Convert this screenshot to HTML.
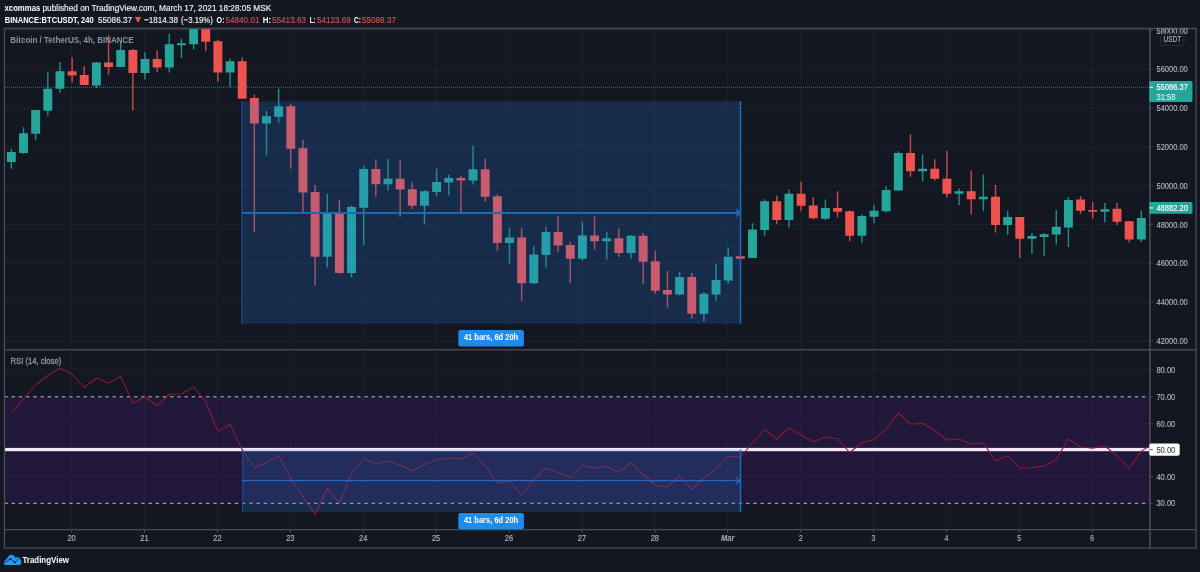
<!DOCTYPE html>
<html><head><meta charset="utf-8"><title>BTCUSDT chart</title>
<style>html,body{margin:0;padding:0;background:#131722;overflow:hidden}svg{display:block;will-change:transform}</style></head>
<body>
<svg width="1200" height="572" viewBox="0 0 1200 572" font-family="Liberation Sans, sans-serif">
<defs><clipPath id="cm"><rect x="4.5" y="28.5" width="1145.1" height="321.3"/></clipPath>
<clipPath id="cr"><rect x="4.5" y="349.8" width="1145.1" height="179.8"/></clipPath>
<clipPath id="ca"><rect x="1149.6" y="28.5" width="46.4" height="321.3"/></clipPath></defs>
<rect width="1200" height="572" fill="#131722"/>
<path d="M71.60 28.5 V529.6 M144.50 28.5 V529.6 M217.40 28.5 V529.6 M290.30 28.5 V529.6 M363.20 28.5 V529.6 M436.10 28.5 V529.6 M509.00 28.5 V529.6 M581.90 28.5 V529.6 M654.80 28.5 V529.6 M727.70 28.5 V529.6 M800.60 28.5 V529.6 M873.50 28.5 V529.6 M946.40 28.5 V529.6 M1019.30 28.5 V529.6 M1092.20 28.5 V529.6 M4.5 30.50 H1149.6 M4.5 69.30 H1149.6 M4.5 108.10 H1149.6 M4.5 146.90 H1149.6 M4.5 185.70 H1149.6 M4.5 224.40 H1149.6 M4.5 263.20 H1149.6 M4.5 302.00 H1149.6 M4.5 340.80 H1149.6 M4.5 369.80 H1149.6 M4.5 423.70 H1149.6 M4.5 476.60 H1149.6" stroke="#1d212c" stroke-width="1" fill="none"/>
<g clip-path="url(#cr)">
<rect x="4.5" y="396.8" width="1145.1" height="106.5" fill="#21173a"/>
<path d="M71.60 396.8 V503.3 M144.50 396.8 V503.3 M217.40 396.8 V503.3 M290.30 396.8 V503.3 M363.20 396.8 V503.3 M436.10 396.8 V503.3 M509.00 396.8 V503.3 M581.90 396.8 V503.3 M654.80 396.8 V503.3 M727.70 396.8 V503.3 M800.60 396.8 V503.3 M873.50 396.8 V503.3 M946.40 396.8 V503.3 M1019.30 396.8 V503.3 M1092.20 396.8 V503.3 M4.5 423.70 H1149.6 M4.5 476.60 H1149.6" stroke="#292040" stroke-width="1" fill="none"/>
<path d="M4.5 396.8 H1149.6 M4.5 503.3 H1149.6" stroke="#c9c9ce" stroke-width="0.95" stroke-dasharray="3.3 3.9" fill="none"/>
<rect x="4.5" y="447.9" width="1145.1" height="3.3" fill="#f3e6fa"/>
<polyline points="11.35,413.25 23.50,398.75 35.65,385.00 47.80,375.50 59.95,368.25 72.10,374.25 84.25,387.50 96.40,378.00 108.55,383.25 120.70,376.25 132.85,403.25 145.00,397.00 157.15,405.75 169.30,394.50 181.45,394.00 193.60,387.00 205.75,402.00 217.90,431.25 230.05,424.50 242.20,450.00 254.35,467.50 266.50,462.50 278.65,455.75 290.80,478.75 302.95,496.75 315.10,514.50 327.25,488.25 339.40,503.25 351.55,473.75 363.70,458.75 375.85,463.50 388.00,461.25 400.15,465.00 412.30,470.75 424.45,464.50 436.60,460.00 448.75,458.00 460.90,459.00 473.05,453.00 485.20,465.50 497.35,483.25 509.50,480.50 521.65,495.00 533.80,479.50 545.95,468.00 558.10,472.50 570.25,477.50 582.40,465.50 594.55,468.00 606.70,466.25 618.85,472.50 631.00,462.50 643.15,474.25 655.30,485.00 667.45,487.00 679.60,475.50 691.75,489.50 703.90,478.00 716.05,468.75 728.20,456.50 740.35,457.00 752.50,443.00 764.65,429.25 776.80,439.25 788.95,428.00 801.10,435.00 813.25,441.75 825.40,437.00 837.55,438.75 849.70,452.50 861.85,442.75 874.00,439.50 886.15,429.25 898.30,413.00 910.45,424.25 922.60,423.50 934.75,430.50 946.90,440.00 959.05,439.00 971.20,444.00 983.35,443.00 995.50,460.75 1007.65,456.00 1019.80,468.50 1031.95,467.50 1044.10,466.00 1056.25,459.50 1068.40,439.00 1080.55,446.75 1092.70,448.25 1104.85,445.75 1117.00,456.25 1129.15,468.75 1141.30,451.10 1153.45,443.30" fill="none" stroke="#8c1c30" stroke-width="1.05" stroke-linejoin="round"/>
<rect x="242" y="449.5" width="499.2" height="62.5" fill="#2a84ea" fill-opacity="0.2"/>
<path d="M242.6 449.5 V512" stroke="#1f4692" stroke-width="1.2" fill="none"/><path d="M740.5 449.5 V512" stroke="#1e6ebe" stroke-width="1.4" fill="none"/>
<path d="M242 480.6 H740 M736 477.3 L740 480.6 L736 483.9" stroke="#2666c2" stroke-width="1.25" fill="none"/>
</g>
<g clip-path="url(#cm)">
<path d="M5 87.25 H1149.6" stroke="#26a69a" stroke-width="1" stroke-dasharray="1 1" stroke-opacity="0.75" fill="none"/>
<rect x="10.62" y="149.00" width="1.45" height="19.75" fill="#26a69a" fill-opacity="0.82"/>
<rect x="6.90" y="152.00" width="8.9" height="10.00" fill="#26a69a"/>
<rect x="22.77" y="127.25" width="1.45" height="26.50" fill="#26a69a" fill-opacity="0.82"/>
<rect x="19.05" y="133.25" width="8.9" height="19.75" fill="#26a69a"/>
<rect x="34.92" y="110.00" width="1.45" height="30.50" fill="#26a69a" fill-opacity="0.82"/>
<rect x="31.20" y="110.00" width="8.9" height="23.75" fill="#26a69a"/>
<rect x="47.08" y="72.50" width="1.45" height="43.00" fill="#26a69a" fill-opacity="0.82"/>
<rect x="43.35" y="88.75" width="8.9" height="22.00" fill="#26a69a"/>
<rect x="59.23" y="62.00" width="1.45" height="31.00" fill="#26a69a" fill-opacity="0.82"/>
<rect x="55.50" y="71.25" width="8.9" height="17.50" fill="#26a69a"/>
<rect x="71.38" y="57.50" width="1.45" height="25.00" fill="#ef5350" fill-opacity="0.82"/>
<rect x="67.65" y="71.25" width="8.9" height="4.25" fill="#ef5350"/>
<rect x="83.53" y="66.25" width="1.45" height="18.75" fill="#ef5350" fill-opacity="0.82"/>
<rect x="79.80" y="75.00" width="8.9" height="10.00" fill="#ef5350"/>
<rect x="95.67" y="62.00" width="1.45" height="26.00" fill="#26a69a" fill-opacity="0.82"/>
<rect x="91.95" y="62.50" width="8.9" height="23.00" fill="#26a69a"/>
<rect x="107.83" y="35.00" width="1.45" height="39.50" fill="#ef5350" fill-opacity="0.82"/>
<rect x="104.10" y="62.50" width="8.9" height="4.50" fill="#ef5350"/>
<rect x="119.98" y="41.25" width="1.45" height="25.75" fill="#26a69a" fill-opacity="0.82"/>
<rect x="116.25" y="50.00" width="8.9" height="17.00" fill="#26a69a"/>
<rect x="132.12" y="49.00" width="1.45" height="61.50" fill="#ef5350" fill-opacity="0.82"/>
<rect x="128.40" y="50.00" width="8.9" height="23.00" fill="#ef5350"/>
<rect x="144.28" y="52.50" width="1.45" height="27.00" fill="#26a69a" fill-opacity="0.82"/>
<rect x="140.55" y="59.00" width="8.9" height="14.00" fill="#26a69a"/>
<rect x="156.43" y="50.50" width="1.45" height="21.50" fill="#ef5350" fill-opacity="0.82"/>
<rect x="152.70" y="59.00" width="8.9" height="8.50" fill="#ef5350"/>
<rect x="168.58" y="33.75" width="1.45" height="38.75" fill="#26a69a" fill-opacity="0.82"/>
<rect x="164.85" y="44.25" width="8.9" height="23.25" fill="#26a69a"/>
<rect x="180.72" y="38.75" width="1.45" height="19.25" fill="#26a69a" fill-opacity="0.82"/>
<rect x="177.00" y="43.25" width="8.9" height="2.00" fill="#26a69a"/>
<rect x="192.88" y="20.00" width="1.45" height="29.50" fill="#26a69a" fill-opacity="0.82"/>
<rect x="189.15" y="20.00" width="8.9" height="24.25" fill="#26a69a"/>
<rect x="205.03" y="20.00" width="1.45" height="31.25" fill="#ef5350" fill-opacity="0.82"/>
<rect x="201.30" y="20.00" width="8.9" height="21.75" fill="#ef5350"/>
<rect x="217.18" y="40.00" width="1.45" height="41.75" fill="#ef5350" fill-opacity="0.82"/>
<rect x="213.45" y="41.25" width="8.9" height="31.25" fill="#ef5350"/>
<rect x="229.33" y="58.75" width="1.45" height="28.00" fill="#26a69a" fill-opacity="0.82"/>
<rect x="225.60" y="61.25" width="8.9" height="11.25" fill="#26a69a"/>
<rect x="241.47" y="57.50" width="1.45" height="41.10" fill="#ef5350" fill-opacity="0.82"/>
<rect x="237.75" y="61.25" width="8.9" height="37.35" fill="#ef5350"/>
<rect x="253.62" y="94.50" width="1.45" height="137.50" fill="#ef5350" fill-opacity="0.82"/>
<rect x="249.90" y="98.00" width="8.9" height="25.50" fill="#ef5350"/>
<rect x="265.77" y="110.75" width="1.45" height="44.75" fill="#26a69a" fill-opacity="0.82"/>
<rect x="262.05" y="116.25" width="8.9" height="7.25" fill="#26a69a"/>
<rect x="277.93" y="88.75" width="1.45" height="33.75" fill="#26a69a" fill-opacity="0.82"/>
<rect x="274.20" y="106.25" width="8.9" height="10.50" fill="#26a69a"/>
<rect x="290.07" y="104.25" width="1.45" height="64.50" fill="#ef5350" fill-opacity="0.82"/>
<rect x="286.35" y="106.25" width="8.9" height="42.50" fill="#ef5350"/>
<rect x="302.23" y="140.00" width="1.45" height="72.50" fill="#ef5350" fill-opacity="0.82"/>
<rect x="298.50" y="148.25" width="8.9" height="44.25" fill="#ef5350"/>
<rect x="314.38" y="185.00" width="1.45" height="100.50" fill="#ef5350" fill-opacity="0.82"/>
<rect x="310.65" y="192.00" width="8.9" height="64.75" fill="#ef5350"/>
<rect x="326.53" y="193.75" width="1.45" height="73.75" fill="#26a69a" fill-opacity="0.82"/>
<rect x="322.80" y="213.00" width="8.9" height="43.75" fill="#26a69a"/>
<rect x="338.68" y="200.00" width="1.45" height="73.75" fill="#ef5350" fill-opacity="0.82"/>
<rect x="334.95" y="213.00" width="8.9" height="60.00" fill="#ef5350"/>
<rect x="350.82" y="205.50" width="1.45" height="72.00" fill="#26a69a" fill-opacity="0.82"/>
<rect x="347.10" y="207.00" width="8.9" height="66.00" fill="#26a69a"/>
<rect x="362.98" y="166.25" width="1.45" height="78.75" fill="#26a69a" fill-opacity="0.82"/>
<rect x="359.25" y="169.00" width="8.9" height="38.75" fill="#26a69a"/>
<rect x="375.12" y="159.50" width="1.45" height="37.25" fill="#ef5350" fill-opacity="0.82"/>
<rect x="371.40" y="169.00" width="8.9" height="15.25" fill="#ef5350"/>
<rect x="387.28" y="158.75" width="1.45" height="31.75" fill="#26a69a" fill-opacity="0.82"/>
<rect x="383.55" y="178.75" width="8.9" height="5.50" fill="#26a69a"/>
<rect x="399.43" y="160.00" width="1.45" height="56.75" fill="#ef5350" fill-opacity="0.82"/>
<rect x="395.70" y="178.75" width="8.9" height="10.75" fill="#ef5350"/>
<rect x="411.57" y="182.00" width="1.45" height="27.00" fill="#ef5350" fill-opacity="0.82"/>
<rect x="407.85" y="189.25" width="8.9" height="16.50" fill="#ef5350"/>
<rect x="423.73" y="190.00" width="1.45" height="34.25" fill="#26a69a" fill-opacity="0.82"/>
<rect x="420.00" y="191.25" width="8.9" height="14.50" fill="#26a69a"/>
<rect x="435.88" y="168.75" width="1.45" height="27.00" fill="#26a69a" fill-opacity="0.82"/>
<rect x="432.15" y="182.00" width="8.9" height="10.00" fill="#26a69a"/>
<rect x="448.03" y="174.50" width="1.45" height="21.00" fill="#26a69a" fill-opacity="0.82"/>
<rect x="444.30" y="178.00" width="8.9" height="4.50" fill="#26a69a"/>
<rect x="460.18" y="175.75" width="1.45" height="38.00" fill="#ef5350" fill-opacity="0.82"/>
<rect x="456.45" y="178.00" width="8.9" height="2.50" fill="#ef5350"/>
<rect x="472.32" y="145.75" width="1.45" height="38.50" fill="#26a69a" fill-opacity="0.82"/>
<rect x="468.60" y="169.25" width="8.9" height="11.25" fill="#26a69a"/>
<rect x="484.48" y="158.75" width="1.45" height="43.00" fill="#ef5350" fill-opacity="0.82"/>
<rect x="480.75" y="169.25" width="8.9" height="27.50" fill="#ef5350"/>
<rect x="496.62" y="194.25" width="1.45" height="56.50" fill="#ef5350" fill-opacity="0.82"/>
<rect x="492.90" y="196.25" width="8.9" height="46.75" fill="#ef5350"/>
<rect x="508.78" y="228.25" width="1.45" height="35.50" fill="#26a69a" fill-opacity="0.82"/>
<rect x="505.05" y="237.50" width="8.9" height="5.50" fill="#26a69a"/>
<rect x="520.92" y="228.25" width="1.45" height="72.50" fill="#ef5350" fill-opacity="0.82"/>
<rect x="517.20" y="237.50" width="8.9" height="45.75" fill="#ef5350"/>
<rect x="533.08" y="246.25" width="1.45" height="37.50" fill="#26a69a" fill-opacity="0.82"/>
<rect x="529.35" y="254.50" width="8.9" height="28.75" fill="#26a69a"/>
<rect x="545.23" y="226.75" width="1.45" height="40.75" fill="#26a69a" fill-opacity="0.82"/>
<rect x="541.50" y="232.00" width="8.9" height="23.00" fill="#26a69a"/>
<rect x="557.38" y="215.75" width="1.45" height="36.00" fill="#ef5350" fill-opacity="0.82"/>
<rect x="553.65" y="232.00" width="8.9" height="13.50" fill="#ef5350"/>
<rect x="569.52" y="241.75" width="1.45" height="41.50" fill="#ef5350" fill-opacity="0.82"/>
<rect x="565.80" y="245.00" width="8.9" height="13.75" fill="#ef5350"/>
<rect x="581.68" y="222.00" width="1.45" height="38.50" fill="#26a69a" fill-opacity="0.82"/>
<rect x="577.95" y="235.50" width="8.9" height="23.25" fill="#26a69a"/>
<rect x="593.83" y="216.25" width="1.45" height="33.75" fill="#ef5350" fill-opacity="0.82"/>
<rect x="590.10" y="235.50" width="8.9" height="5.75" fill="#ef5350"/>
<rect x="605.98" y="231.75" width="1.45" height="27.75" fill="#26a69a" fill-opacity="0.82"/>
<rect x="602.25" y="238.25" width="8.9" height="3.00" fill="#26a69a"/>
<rect x="618.12" y="228.25" width="1.45" height="28.75" fill="#ef5350" fill-opacity="0.82"/>
<rect x="614.40" y="238.25" width="8.9" height="14.75" fill="#ef5350"/>
<rect x="630.27" y="235.00" width="1.45" height="23.75" fill="#26a69a" fill-opacity="0.82"/>
<rect x="626.55" y="235.75" width="8.9" height="17.25" fill="#26a69a"/>
<rect x="642.43" y="233.00" width="1.45" height="50.75" fill="#ef5350" fill-opacity="0.82"/>
<rect x="638.70" y="235.75" width="8.9" height="26.00" fill="#ef5350"/>
<rect x="654.58" y="250.75" width="1.45" height="43.00" fill="#ef5350" fill-opacity="0.82"/>
<rect x="650.85" y="261.25" width="8.9" height="29.50" fill="#ef5350"/>
<rect x="666.73" y="270.75" width="1.45" height="36.75" fill="#ef5350" fill-opacity="0.82"/>
<rect x="663.00" y="290.00" width="8.9" height="4.50" fill="#ef5350"/>
<rect x="678.88" y="272.00" width="1.45" height="23.50" fill="#26a69a" fill-opacity="0.82"/>
<rect x="675.15" y="277.00" width="8.9" height="17.50" fill="#26a69a"/>
<rect x="691.02" y="273.00" width="1.45" height="45.75" fill="#ef5350" fill-opacity="0.82"/>
<rect x="687.30" y="277.00" width="8.9" height="36.75" fill="#ef5350"/>
<rect x="703.18" y="292.00" width="1.45" height="30.00" fill="#26a69a" fill-opacity="0.82"/>
<rect x="699.45" y="293.75" width="8.9" height="20.00" fill="#26a69a"/>
<rect x="715.33" y="263.75" width="1.45" height="37.00" fill="#26a69a" fill-opacity="0.82"/>
<rect x="711.60" y="280.00" width="8.9" height="14.50" fill="#26a69a"/>
<rect x="727.48" y="247.50" width="1.45" height="36.25" fill="#26a69a" fill-opacity="0.82"/>
<rect x="723.75" y="256.75" width="8.9" height="23.75" fill="#26a69a"/>
<rect x="735.90" y="256.25" width="8.9" height="2.50" fill="#ef5350"/>
<rect x="751.77" y="223.25" width="1.45" height="34.75" fill="#26a69a" fill-opacity="0.82"/>
<rect x="748.05" y="229.50" width="8.9" height="28.50" fill="#26a69a"/>
<rect x="763.93" y="199.25" width="1.45" height="36.25" fill="#26a69a" fill-opacity="0.82"/>
<rect x="760.20" y="201.25" width="8.9" height="28.75" fill="#26a69a"/>
<rect x="776.08" y="195.50" width="1.45" height="28.75" fill="#ef5350" fill-opacity="0.82"/>
<rect x="772.35" y="201.25" width="8.9" height="18.75" fill="#ef5350"/>
<rect x="788.23" y="189.50" width="1.45" height="38.00" fill="#26a69a" fill-opacity="0.82"/>
<rect x="784.50" y="193.75" width="8.9" height="26.25" fill="#26a69a"/>
<rect x="800.38" y="181.75" width="1.45" height="29.50" fill="#ef5350" fill-opacity="0.82"/>
<rect x="796.65" y="193.75" width="8.9" height="12.00" fill="#ef5350"/>
<rect x="812.52" y="197.00" width="1.45" height="22.25" fill="#ef5350" fill-opacity="0.82"/>
<rect x="808.80" y="205.50" width="8.9" height="12.75" fill="#ef5350"/>
<rect x="824.68" y="199.50" width="1.45" height="20.50" fill="#26a69a" fill-opacity="0.82"/>
<rect x="820.95" y="208.00" width="8.9" height="10.75" fill="#26a69a"/>
<rect x="836.83" y="191.25" width="1.45" height="26.25" fill="#ef5350" fill-opacity="0.82"/>
<rect x="833.10" y="208.00" width="8.9" height="3.75" fill="#ef5350"/>
<rect x="848.98" y="210.50" width="1.45" height="30.75" fill="#ef5350" fill-opacity="0.82"/>
<rect x="845.25" y="211.25" width="8.9" height="24.50" fill="#ef5350"/>
<rect x="861.12" y="214.50" width="1.45" height="28.75" fill="#26a69a" fill-opacity="0.82"/>
<rect x="857.40" y="216.00" width="8.9" height="19.75" fill="#26a69a"/>
<rect x="873.27" y="205.00" width="1.45" height="18.00" fill="#26a69a" fill-opacity="0.82"/>
<rect x="869.55" y="210.75" width="8.9" height="6.00" fill="#26a69a"/>
<rect x="885.43" y="186.25" width="1.45" height="26.25" fill="#26a69a" fill-opacity="0.82"/>
<rect x="881.70" y="190.00" width="8.9" height="21.25" fill="#26a69a"/>
<rect x="897.58" y="151.25" width="1.45" height="39.25" fill="#26a69a" fill-opacity="0.82"/>
<rect x="893.85" y="153.00" width="8.9" height="37.50" fill="#26a69a"/>
<rect x="909.73" y="134.25" width="1.45" height="42.50" fill="#ef5350" fill-opacity="0.82"/>
<rect x="906.00" y="153.00" width="8.9" height="18.25" fill="#ef5350"/>
<rect x="921.88" y="154.25" width="1.45" height="27.00" fill="#26a69a" fill-opacity="0.82"/>
<rect x="918.15" y="168.75" width="8.9" height="2.50" fill="#26a69a"/>
<rect x="934.02" y="159.25" width="1.45" height="21.25" fill="#ef5350" fill-opacity="0.82"/>
<rect x="930.30" y="168.75" width="8.9" height="10.00" fill="#ef5350"/>
<rect x="946.18" y="150.75" width="1.45" height="46.75" fill="#ef5350" fill-opacity="0.82"/>
<rect x="942.45" y="178.75" width="8.9" height="15.00" fill="#ef5350"/>
<rect x="958.33" y="188.25" width="1.45" height="16.75" fill="#26a69a" fill-opacity="0.82"/>
<rect x="954.60" y="191.25" width="8.9" height="2.50" fill="#26a69a"/>
<rect x="970.48" y="170.50" width="1.45" height="44.00" fill="#ef5350" fill-opacity="0.82"/>
<rect x="966.75" y="191.25" width="8.9" height="8.00" fill="#ef5350"/>
<rect x="982.62" y="174.50" width="1.45" height="36.75" fill="#26a69a" fill-opacity="0.82"/>
<rect x="978.90" y="196.75" width="8.9" height="2.50" fill="#26a69a"/>
<rect x="994.77" y="185.00" width="1.45" height="47.50" fill="#ef5350" fill-opacity="0.82"/>
<rect x="991.05" y="196.75" width="8.9" height="28.25" fill="#ef5350"/>
<rect x="1006.93" y="210.75" width="1.45" height="24.00" fill="#26a69a" fill-opacity="0.82"/>
<rect x="1003.20" y="217.00" width="8.9" height="8.00" fill="#26a69a"/>
<rect x="1019.08" y="217.00" width="1.45" height="41.00" fill="#ef5350" fill-opacity="0.82"/>
<rect x="1015.35" y="217.00" width="8.9" height="21.75" fill="#ef5350"/>
<rect x="1031.23" y="233.00" width="1.45" height="20.75" fill="#26a69a" fill-opacity="0.82"/>
<rect x="1027.50" y="236.00" width="8.9" height="2.75" fill="#26a69a"/>
<rect x="1043.38" y="233.00" width="1.45" height="22.75" fill="#26a69a" fill-opacity="0.82"/>
<rect x="1039.65" y="234.25" width="8.9" height="2.75" fill="#26a69a"/>
<rect x="1055.53" y="210.00" width="1.45" height="34.50" fill="#26a69a" fill-opacity="0.82"/>
<rect x="1051.80" y="226.75" width="8.9" height="7.75" fill="#26a69a"/>
<rect x="1067.67" y="197.00" width="1.45" height="50.00" fill="#26a69a" fill-opacity="0.82"/>
<rect x="1063.95" y="200.00" width="8.9" height="27.50" fill="#26a69a"/>
<rect x="1079.83" y="196.25" width="1.45" height="17.50" fill="#ef5350" fill-opacity="0.82"/>
<rect x="1076.10" y="199.50" width="8.9" height="11.25" fill="#ef5350"/>
<rect x="1091.98" y="202.00" width="1.45" height="16.75" fill="#ef5350" fill-opacity="0.82"/>
<rect x="1088.25" y="210.00" width="8.9" height="1.75" fill="#ef5350"/>
<rect x="1104.12" y="203.00" width="1.45" height="19.50" fill="#26a69a" fill-opacity="0.82"/>
<rect x="1100.40" y="209.25" width="8.9" height="2.50" fill="#26a69a"/>
<rect x="1116.28" y="203.00" width="1.45" height="22.00" fill="#ef5350" fill-opacity="0.82"/>
<rect x="1112.55" y="208.75" width="8.9" height="13.00" fill="#ef5350"/>
<rect x="1128.42" y="220.75" width="1.45" height="21.75" fill="#ef5350" fill-opacity="0.82"/>
<rect x="1124.70" y="221.25" width="8.9" height="18.25" fill="#ef5350"/>
<rect x="1140.58" y="210.75" width="1.45" height="31.25" fill="#26a69a" fill-opacity="0.82"/>
<rect x="1136.85" y="218.00" width="8.9" height="21.50" fill="#26a69a"/>
<rect x="1149.00" y="207.50" width="8.9" height="11.50" fill="#26a69a"/>
<rect x="241.3" y="101.2" width="499.9" height="222.5" fill="#2a84ea" fill-opacity="0.2"/>
<path d="M241.9 101.2 V323.7" stroke="#1b4f8a" stroke-width="1.2" fill="none"/><path d="M740.5 101.2 V323.7" stroke="#1e6ebe" stroke-width="1.4" fill="none"/>
<path d="M242 213" stroke="none"/><path d="M242 213 H740 M736 209.4 L740 213 L736 216.6" stroke="#1c69b4" stroke-width="1.9" fill="none"/>
</g>
<path d="M4.5 28.5 H1196 V548.2 H4.5 Z M4.5 529.6 H1196" stroke="#4b4e59" stroke-width="1.3" fill="none"/>
<path d="M4.5 349.8 H1196" stroke="#464954" stroke-width="1.6" fill="none"/>
<path d="M1149.9 28.5 V548.2" stroke="#4d505c" stroke-width="1.5" fill="none"/>
<path d="M1149.6 30.50 h3.2 M1149.6 69.30 h3.2 M1149.6 108.10 h3.2 M1149.6 146.90 h3.2 M1149.6 185.70 h3.2 M1149.6 224.40 h3.2 M1149.6 263.20 h3.2 M1149.6 302.00 h3.2 M1149.6 340.80 h3.2 M1149.6 369.80 h3.2 M1149.6 396.80 h3.2 M1149.6 423.70 h3.2 M1149.6 476.60 h3.2 M1149.6 503.30 h3.2 M71.60 529.6 v3 M144.50 529.6 v3 M217.40 529.6 v3 M290.30 529.6 v3 M363.20 529.6 v3 M436.10 529.6 v3 M509.00 529.6 v3 M581.90 529.6 v3 M654.80 529.6 v3 M727.70 529.6 v3 M800.60 529.6 v3 M873.50 529.6 v3 M946.40 529.6 v3 M1019.30 529.6 v3 M1092.20 529.6 v3" stroke="#4b4e59" stroke-width="1" fill="none"/>
<g clip-path="url(#ca)">
<text x="1156.5" y="33.6" font-size="8.7" fill="#b2b5be" textLength="31.3" lengthAdjust="spacingAndGlyphs" stroke="#b2b5be" stroke-width="0.15" >58000.00</text>
<text x="1156.5" y="72.4" font-size="8.7" fill="#b2b5be" textLength="31.3" lengthAdjust="spacingAndGlyphs" stroke="#b2b5be" stroke-width="0.15" >56000.00</text>
<text x="1156.5" y="111.2" font-size="8.7" fill="#b2b5be" textLength="31.3" lengthAdjust="spacingAndGlyphs" stroke="#b2b5be" stroke-width="0.15" >54000.00</text>
<text x="1156.5" y="150" font-size="8.7" fill="#b2b5be" textLength="31.3" lengthAdjust="spacingAndGlyphs" stroke="#b2b5be" stroke-width="0.15" >52000.00</text>
<text x="1156.5" y="188.8" font-size="8.7" fill="#b2b5be" textLength="31.3" lengthAdjust="spacingAndGlyphs" stroke="#b2b5be" stroke-width="0.15" >50000.00</text>
<text x="1156.5" y="227.5" font-size="8.7" fill="#b2b5be" textLength="31.3" lengthAdjust="spacingAndGlyphs" stroke="#b2b5be" stroke-width="0.15" >48000.00</text>
<text x="1156.5" y="266.3" font-size="8.7" fill="#b2b5be" textLength="31.3" lengthAdjust="spacingAndGlyphs" stroke="#b2b5be" stroke-width="0.15" >46000.00</text>
<text x="1156.5" y="305.1" font-size="8.7" fill="#b2b5be" textLength="31.3" lengthAdjust="spacingAndGlyphs" stroke="#b2b5be" stroke-width="0.15" >44000.00</text>
<text x="1156.5" y="343.9" font-size="8.7" fill="#b2b5be" textLength="31.3" lengthAdjust="spacingAndGlyphs" stroke="#b2b5be" stroke-width="0.15" >42000.00</text>
</g>
<text x="1156.4" y="372.9" font-size="8.7" fill="#b2b5be" textLength="18.9" lengthAdjust="spacingAndGlyphs" stroke="#b2b5be" stroke-width="0.15" >80.00</text>
<text x="1156.4" y="399.9" font-size="8.7" fill="#b2b5be" textLength="18.9" lengthAdjust="spacingAndGlyphs" stroke="#b2b5be" stroke-width="0.15" >70.00</text>
<text x="1156.4" y="426.8" font-size="8.7" fill="#b2b5be" textLength="18.9" lengthAdjust="spacingAndGlyphs" stroke="#b2b5be" stroke-width="0.15" >60.00</text>
<text x="1156.4" y="479.7" font-size="8.7" fill="#b2b5be" textLength="18.9" lengthAdjust="spacingAndGlyphs" stroke="#b2b5be" stroke-width="0.15" >40.00</text>
<text x="1156.4" y="506.4" font-size="8.7" fill="#b2b5be" textLength="18.9" lengthAdjust="spacingAndGlyphs" stroke="#b2b5be" stroke-width="0.15" >30.00</text>
<rect x="1160.7" y="33.9" width="23.3" height="11.4" rx="2" fill="#131722" stroke="#2a2e39" stroke-width="1"/>
<text x="1163.6" y="41.6" font-size="8.7" fill="#b2b5be" textLength="17.5" lengthAdjust="spacingAndGlyphs" stroke="#b2b5be" stroke-width="0.15" >USDT</text>
<rect x="1149.3" y="81" width="43.2" height="21" rx="1.5" fill="#26a69a"/>
<path d="M1149.6 87.2 h3.4" stroke="#fff" stroke-width="1"/>
<text x="1156.4" y="90.4" font-size="8.7" fill="#ffffff" textLength="31.6" lengthAdjust="spacingAndGlyphs" stroke="#ffffff" stroke-width="0.15" >55086.37</text>
<text x="1156.4" y="99.6" font-size="8.7" fill="#d3edea" textLength="19.1" lengthAdjust="spacingAndGlyphs" stroke="#d3edea" stroke-width="0.15" >31:58</text>
<rect x="1149.3" y="201.9" width="43.2" height="11.8" rx="1.5" fill="#26a69a"/>
<path d="M1149.6 207.9 h3.4" stroke="#fff" stroke-width="1"/>
<text x="1156.4" y="211.1" font-size="8.7" fill="#ffffff" textLength="31.6" lengthAdjust="spacingAndGlyphs" stroke="#ffffff" stroke-width="0.15" >48882.20</text>
<rect x="1149.3" y="443.6" width="30.4" height="12.1" rx="1.8" fill="#ffffff"/>
<path d="M1149.6 449.7 h3.2" stroke="#555" stroke-width="1"/>
<text x="1156.4" y="452.9" font-size="8.7" fill="#4a4a4a" textLength="18.9" lengthAdjust="spacingAndGlyphs" stroke="#4a4a4a" stroke-width="0.15" >50.00</text>
<text x="67.45" y="540.8" font-size="8.7" fill="#b2b5be" textLength="8.3" lengthAdjust="spacingAndGlyphs" stroke="#b2b5be" stroke-width="0.15" >20</text>
<text x="140.35" y="540.8" font-size="8.7" fill="#b2b5be" textLength="8.3" lengthAdjust="spacingAndGlyphs" stroke="#b2b5be" stroke-width="0.15" >21</text>
<text x="213.25" y="540.8" font-size="8.7" fill="#b2b5be" textLength="8.3" lengthAdjust="spacingAndGlyphs" stroke="#b2b5be" stroke-width="0.15" >22</text>
<text x="286.15" y="540.8" font-size="8.7" fill="#b2b5be" textLength="8.3" lengthAdjust="spacingAndGlyphs" stroke="#b2b5be" stroke-width="0.15" >23</text>
<text x="359.05" y="540.8" font-size="8.7" fill="#b2b5be" textLength="8.3" lengthAdjust="spacingAndGlyphs" stroke="#b2b5be" stroke-width="0.15" >24</text>
<text x="431.95" y="540.8" font-size="8.7" fill="#b2b5be" textLength="8.3" lengthAdjust="spacingAndGlyphs" stroke="#b2b5be" stroke-width="0.15" >25</text>
<text x="504.85" y="540.8" font-size="8.7" fill="#b2b5be" textLength="8.3" lengthAdjust="spacingAndGlyphs" stroke="#b2b5be" stroke-width="0.15" >26</text>
<text x="577.75" y="540.8" font-size="8.7" fill="#b2b5be" textLength="8.3" lengthAdjust="spacingAndGlyphs" stroke="#b2b5be" stroke-width="0.15" >27</text>
<text x="650.65" y="540.8" font-size="8.7" fill="#b2b5be" textLength="8.3" lengthAdjust="spacingAndGlyphs" stroke="#b2b5be" stroke-width="0.15" >28</text>
<text x="721.1" y="540.8" font-size="8.7" fill="#b2b5be" textLength="13.2" lengthAdjust="spacingAndGlyphs" font-weight="bold" font-style="italic">Mar</text>
<text x="798.65" y="540.8" font-size="8.7" fill="#b2b5be" textLength="3.9" lengthAdjust="spacingAndGlyphs" stroke="#b2b5be" stroke-width="0.15" >2</text>
<text x="871.55" y="540.8" font-size="8.7" fill="#b2b5be" textLength="3.9" lengthAdjust="spacingAndGlyphs" stroke="#b2b5be" stroke-width="0.15" >3</text>
<text x="944.45" y="540.8" font-size="8.7" fill="#b2b5be" textLength="3.9" lengthAdjust="spacingAndGlyphs" stroke="#b2b5be" stroke-width="0.15" >4</text>
<text x="1017.35" y="540.8" font-size="8.7" fill="#b2b5be" textLength="3.9" lengthAdjust="spacingAndGlyphs" stroke="#b2b5be" stroke-width="0.15" >5</text>
<text x="1090.25" y="540.8" font-size="8.7" fill="#b2b5be" textLength="3.9" lengthAdjust="spacingAndGlyphs" stroke="#b2b5be" stroke-width="0.15" >6</text>
<rect x="458.3" y="329.9" width="65.6" height="16.6" rx="2" fill="#1f8ceb"/>
<text x="463.9" y="340" font-size="8.2" fill="#ffffff" textLength="54.3" lengthAdjust="spacingAndGlyphs" font-weight="bold" >41 bars, 6d 20h</text>
<rect x="458.3" y="513" width="65.6" height="16.3" rx="2" fill="#1f8ceb"/>
<text x="463.9" y="523.1" font-size="8.2" fill="#ffffff" textLength="54.3" lengthAdjust="spacingAndGlyphs" font-weight="bold" >41 bars, 6d 20h</text>
<text x="10.3" y="42.9" font-size="8.6" fill="#8f929c" textLength="123.4" lengthAdjust="spacingAndGlyphs" font-weight="bold" >Bitcoin / TetherUS, 4h, BINANCE</text>
<text x="10.5" y="364.2" font-size="8.3" fill="#9497a1" textLength="50.7" lengthAdjust="spacingAndGlyphs" stroke="#9497a1" stroke-width="0.3" >RSI (14, close)</text>
<text x="4.5" y="11.45" font-size="9.1" fill="#ffffff" textLength="35.8" lengthAdjust="spacingAndGlyphs" font-weight="bold" >xcommas</text>
<text x="42.5" y="11.45" font-size="9.1" fill="#f4f4f4" textLength="228.7" lengthAdjust="spacingAndGlyphs" stroke="#f4f4f4" stroke-width="0.15" >published on TradingView.com, March 17, 2021 18:28:05 MSK</text>
<text x="4.7" y="22.9" font-size="9.1" fill="#ffffff" textLength="89" lengthAdjust="spacingAndGlyphs" font-weight="bold" >BINANCE:BTCUSDT, 240</text>
<text x="97.9" y="22.9" font-size="9.1" fill="#f0f0f0" textLength="34.3" lengthAdjust="spacingAndGlyphs" stroke="#f0f0f0" stroke-width="0.15" >55086.37</text>
<path d="M134.8 16.9 H141.3 L138.05 22.9 Z" fill="#ef5350"/>
<text x="144" y="22.9" font-size="9.1" fill="#f0f0f0" textLength="34.1" lengthAdjust="spacingAndGlyphs" stroke="#f0f0f0" stroke-width="0.15" >−1814.38</text>
<text x="181" y="22.9" font-size="9.1" fill="#f0f0f0" textLength="31.9" lengthAdjust="spacingAndGlyphs" stroke="#f0f0f0" stroke-width="0.15" >(−3.19%)</text>
<text x="216.6" y="22.9" font-size="9.1" fill="#ffffff" textLength="8" lengthAdjust="spacingAndGlyphs" font-weight="bold" >O:</text>
<text x="225.6" y="22.9" font-size="9.1" fill="#d9504c" textLength="33.8" lengthAdjust="spacingAndGlyphs" stroke="#d9504c" stroke-width="0.15" >54840.01</text>
<text x="262.75" y="22.9" font-size="9.1" fill="#ffffff" textLength="8.4" lengthAdjust="spacingAndGlyphs" font-weight="bold" >H:</text>
<text x="271.9" y="22.9" font-size="9.1" fill="#d9504c" textLength="34.3" lengthAdjust="spacingAndGlyphs" stroke="#d9504c" stroke-width="0.15" >55413.63</text>
<text x="309.75" y="22.9" font-size="9.1" fill="#ffffff" textLength="5.9" lengthAdjust="spacingAndGlyphs" font-weight="bold" >L:</text>
<text x="316.9" y="22.9" font-size="9.1" fill="#d9504c" textLength="34" lengthAdjust="spacingAndGlyphs" stroke="#d9504c" stroke-width="0.15" >54123.69</text>
<text x="354" y="22.9" font-size="9.1" fill="#ffffff" textLength="7" lengthAdjust="spacingAndGlyphs" font-weight="bold" >C:</text>
<text x="361.9" y="22.9" font-size="9.1" fill="#d9504c" textLength="34.1" lengthAdjust="spacingAndGlyphs" stroke="#d9504c" stroke-width="0.15" >55086.37</text>
<path d="M5.6 565 C4.6 565 4 564.2 4 563.2 C4 562 4.3 561.2 5.2 560.4 L8.6 556.2 C9.4 555.2 10.4 554.7 11.4 554.7 C12.8 554.7 13.8 555.4 14.6 556.6 L15.4 557.8 C16 557.3 16.8 557.1 17.6 557.2 C19.4 557.4 20.6 558.8 20.9 560.6 C21.2 561.6 21.2 562.6 21.1 563.2 C20.9 564.3 20.2 565 19.2 565 Z" fill="#1e9cf5"/>
<path d="M4.9 562.9 L10.4 558.7 L14.9 562.5 L18.4 558.4" stroke="#16243c" stroke-width="0.9" fill="none" stroke-linejoin="round"/>
<circle cx="10.5" cy="558.7" r="0.95" fill="#131a2a"/><circle cx="14.8" cy="562.4" r="0.95" fill="#131a2a"/>
<text x="22.4" y="563.1" font-size="8.3" fill="#ffffff" textLength="46.6" lengthAdjust="spacingAndGlyphs" font-weight="bold" >TradingView</text>
</svg>
</body></html>
